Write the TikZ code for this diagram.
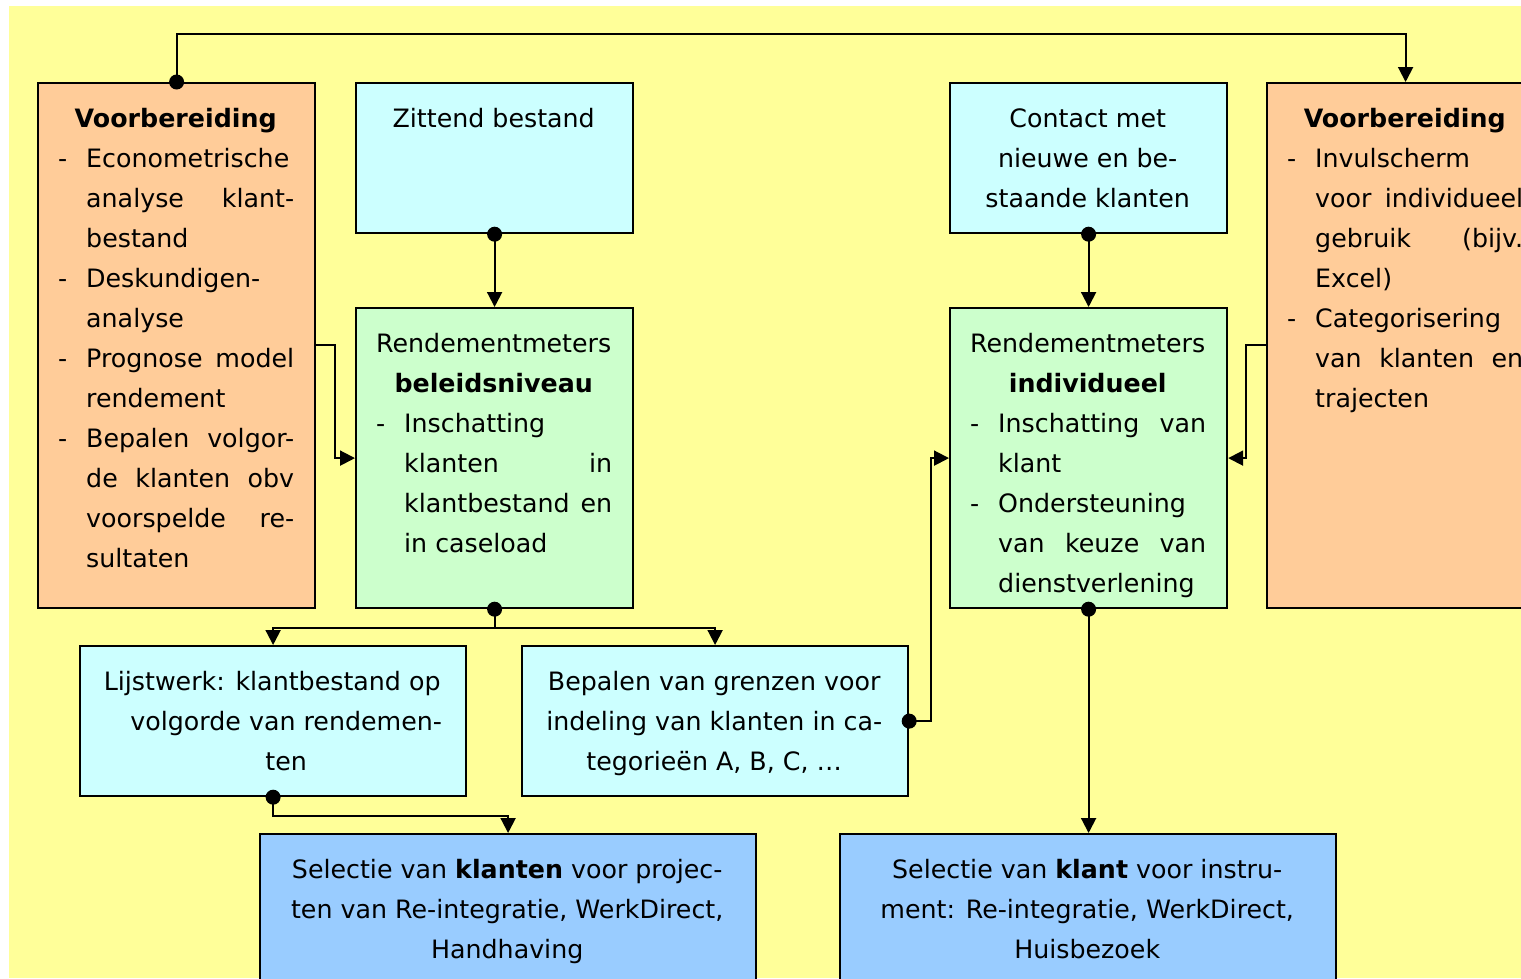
\documentclass[tikz,border=0pt]{standalone}
\usepackage{fontspec}
\setmainfont{DejaVu Sans}
\usetikzlibrary{arrows.meta}
\definecolor{bgy}{HTML}{FFFF99}
\definecolor{org}{HTML}{FFCC99}
\definecolor{cyn}{HTML}{CCFFFF}
\definecolor{grn}{HTML}{CCFFCC}
\definecolor{blu}{HTML}{99CCFF}
\newcommand\LI[2][l]{\hbox{\hspace*{21pt}\makebox[28pt][l]{-}\makebox[208pt][#1]{#2}}}
\newcommand\LC[2][l]{\hbox{\hspace*{49pt}\makebox[208pt][#1]{#2}}}
\newcommand\HD[2]{\hbox to #1{\hss#2\hss}}
\tikzset{
  box/.style={draw=black, line width=2.2pt, rectangle, inner sep=0pt, anchor=north west},
  txt/.style={inner sep=0pt, anchor=base west, font=\fontsize{25.3}{40}\selectfont},
  conn/.style={line width=2pt, -{Triangle[length=15pt,width=15pt]}},
  dotr/.style={fill=black}
}
\begin{document}
\begin{tikzpicture}[x=1pt,y=-1pt]
\useasboundingbox (0,0) rectangle (1521,978);
\clip (0,0) rectangle (1521,978);
\fill[white] (0,0) rectangle (1521,978);
\fill[bgy] (9,6) rectangle (1521,978);

% boxes
\node[box, fill=org, minimum width=277pt, minimum height=525pt] (lv) at (37,82) {};
\node[box, fill=cyn, minimum width=277pt, minimum height=150pt] (zit) at (355,82) {};
\node[box, fill=grn, minimum width=277pt, minimum height=300pt] (bel) at (355,307) {};
\node[box, fill=cyn, minimum width=277pt, minimum height=150pt] (con) at (949,82) {};
\node[box, fill=grn, minimum width=277pt, minimum height=300pt] (ind) at (949,307) {};
\node[box, fill=org, minimum width=277pt, minimum height=525pt] (rv) at (1266,82) {};
\node[box, fill=cyn, minimum width=386pt, minimum height=150pt] (lij) at (79,645) {};
\node[box, fill=cyn, minimum width=386pt, minimum height=150pt] (bep) at (521,645) {};
\node[box, fill=blu, minimum width=496pt, minimum height=220pt] (sel1) at (259,833) {};
\node[box, fill=blu, minimum width=496pt, minimum height=220pt] (sel2) at (839,833) {};

% texts
\node[txt] (tlv) at ([yshift=-45pt]lv.north west) {\parbox[t]{277pt}{%
  \HD{277pt}{\textbf{Voorbereiding}}
  \LI{Econometrische}
  \LC[s]{analyse klant-}
  \LC{bestand}
  \LI{Deskundigen-}
  \LC{analyse}
  \LI[s]{Prognose model}
  \LC{rendement}
  \LI[s]{Bepalen volgor-}
  \LC[s]{de klanten obv}
  \LC[s]{voorspelde re-}
  \LC{sultaten}}};
\node[txt] (tzit) at ([yshift=-45pt]zit.north west) {\parbox[t]{277pt}{%
  \HD{277pt}{Zittend bestand}}};
\node[txt] (tbel) at ([yshift=-45pt]bel.north west) {\parbox[t]{277pt}{%
  \HD{277pt}{Rendementmeters}
  \HD{277pt}{\textbf{beleidsniveau}}
  \LI{Inschatting}
  \LC[s]{klanten in}
  \LC[s]{klantbestand en}
  \LC{in caseload}}};
\node[txt] (tcon) at ([yshift=-45pt]con.north west) {\parbox[t]{277pt}{%
  \HD{277pt}{Contact met}
  \HD{277pt}{nieuwe en be-}
  \HD{277pt}{staande klanten}}};
\node[txt] (tind) at ([yshift=-45pt]ind.north west) {\parbox[t]{277pt}{%
  \HD{277pt}{Rendementmeters}
  \HD{277pt}{\textbf{individueel}}
  \LI[s]{Inschatting van}
  \LC{klant}
  \LI{Ondersteuning}
  \LC[s]{van keuze van}
  \LC{dienstverlening}}};
\node[txt] (trv) at ([yshift=-45pt]rv.north west) {\parbox[t]{277pt}{%
  \HD{277pt}{\textbf{Voorbereiding}}
  \LI{Invulscherm}
  \LC[s]{voor individueel}
  \LC[s]{gebruik (bijv.}
  \LC{Excel)}
  \LI{Categorisering}
  \LC[s]{van klanten en}
  \LC{trajecten}}};
\node[txt] (tlij) at ([yshift=-45pt]lij.north west) {\parbox[t]{386pt}{%
  \HD{386pt}{Lijstwerk: klantbestand op}
  \HD{386pt}{\hspace*{28pt}volgorde van rendemen-}
  \HD{386pt}{\hspace*{28pt}ten}}};
\node[txt] (tbep) at ([yshift=-45pt]bep.north west) {\parbox[t]{386pt}{%
  \HD{386pt}{Bepalen van grenzen voor}
  \HD{386pt}{indeling van klanten in ca-}
  \HD{386pt}{tegorieën A, B, C, …}}};
\node[txt] (tsel1) at ([yshift=-45pt]sel1.north west) {\parbox[t]{496pt}{%
  \HD{496pt}{Selectie van \textbf{klanten} voor projec-}
  \HD{496pt}{ten van Re-integratie, WerkDirect,}
  \HD{496pt}{Handhaving}}};
\node[txt] (tsel2) at ([yshift=-45pt]sel2.north west) {\parbox[t]{496pt}{%
  \HD{496pt}{Selectie van \textbf{klant} voor instru-}
  \HD{496pt}{ment: Re-integratie, WerkDirect,}
  \HD{496pt}{Huisbezoek}}};

% connectors
\draw[conn] (lv.north) -- ++(0,-48) -| (rv.north);
\draw[conn] (zit.south) -- (bel.north);
\draw[conn] (con.south) -- (ind.north);
\draw[conn] ([yshift=-263pt]lv.north east) -- ++(19,0) |- (bel.west);
\draw[conn] ([yshift=-263pt]rv.north west) -- ++(-20,0) |- (ind.east);
\draw[conn] (bel.south) -- ++(0,19) -| (lij.north);
\draw[conn] (bel.south) -- ++(0,19) -| (bep.north);
\draw[conn] (bep.east) -- ++(22,0) |- (ind.west);
\draw[conn] (ind.south) -- (ind.south |- sel2.north);
\draw[conn] (lij.south) -- ++(0,19) -| (sel1.north);

% dots
\fill[dotr] (lv.north) circle[radius=7.5pt];
\fill[dotr] (zit.south) circle[radius=7.5pt];
\fill[dotr] (con.south) circle[radius=7.5pt];
\fill[dotr] (bel.south) circle[radius=7.5pt];
\fill[dotr] (bep.east) circle[radius=7.5pt];
\fill[dotr] (ind.south) circle[radius=7.5pt];
\fill[dotr] (lij.south) circle[radius=7.5pt];
\end{tikzpicture}
\end{document}
